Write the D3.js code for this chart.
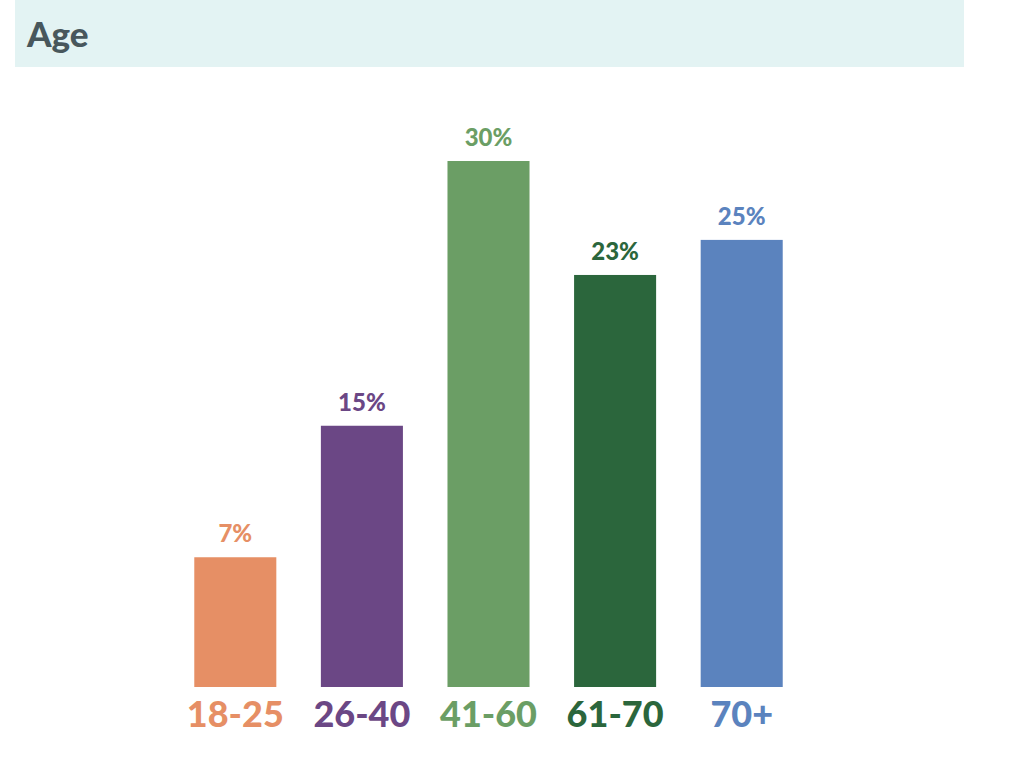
<!DOCTYPE html>
<html>
<head>
<meta charset="utf-8">
<script src="https://cdn.jsdelivr.net/npm/d3@7"></script>
<style>
  body { margin: 0; background: #fff; }
  svg { display: block; font-family: Lato, "Open Sans", sans-serif; }
</style>
</head>
<body>
<svg id="chart" width="1024" height="775"></svg>
<script>
// data
var categories = ["18-25", "26-40", "41-60", "61-70", "70+"];
var values = [7.4, 14.9, 30, 23.5, 25.5];
var valueLabels = ["7%", "15%", "30%", "23%", "25%"];
var colors = ["#E68F65", "#6B4785", "#6B9E65", "#2B663C", "#5B83BE"];

var svg = d3.select("#chart");

// header band + title
svg.append("rect")
    .attr("x", 15).attr("y", 0)
    .attr("width", 949).attr("height", 67)
    .attr("fill", "#E3F3F3");
svg.append("text")
    .attr("x", 27).attr("y", 47)
    .attr("font-size", 35)
    .attr("font-weight", 900)
    .attr("fill", "#48575C")
    .text("Age");

var x = d3.scaleBand()
    .domain(categories)
    .range([172, 805])
    .paddingInner(0.352)
    .paddingOuter(0.176);

var y = d3.scaleLinear()
    .domain([0, 30])
    .range([687, 161]);

var data = categories.map(function(c, i) {
  return {cat: c, value: values[i], label: valueLabels[i], color: colors[i]};
});

var g = svg.append("g");

g.selectAll("rect.bar")
  .data(data)
  .enter().append("rect")
    .attr("class", "bar")
    .attr("x", function(d) { return x(d.cat); })
    .attr("y", function(d) { return y(d.value); })
    .attr("width", x.bandwidth())
    .attr("height", function(d) { return y(0) - y(d.value); })
    .attr("fill", function(d) { return d.color; });

// value labels above bars
g.selectAll("text.val")
  .data(data)
  .enter().append("text")
    .attr("class", "val")
    .attr("x", function(d) { return x(d.cat) + x.bandwidth() / 2; })
    .attr("y", function(d) { return y(d.value) - 15; })
    .attr("text-anchor", "middle")
    .attr("font-size", 24)
    .attr("font-weight", 900)
    .attr("fill", function(d) { return d.color; })
    .text(function(d) { return d.label; });

// category labels under bars
var axis = svg.append("g")
    .attr("transform", "translate(0," + y(0) + ")")
    .call(d3.axisBottom(x).tickSize(0).tickPadding(0));
axis.select(".domain").remove();
axis.selectAll(".tick text")
    .attr("dy", 0)
    .attr("y", 40)
    .attr("font-family", "Lato, 'Open Sans', sans-serif")
    .attr("font-size", 36)
    .attr("font-weight", 900)
    .attr("fill", function(d, i) { return colors[i]; });
</script>
</body>
</html>
